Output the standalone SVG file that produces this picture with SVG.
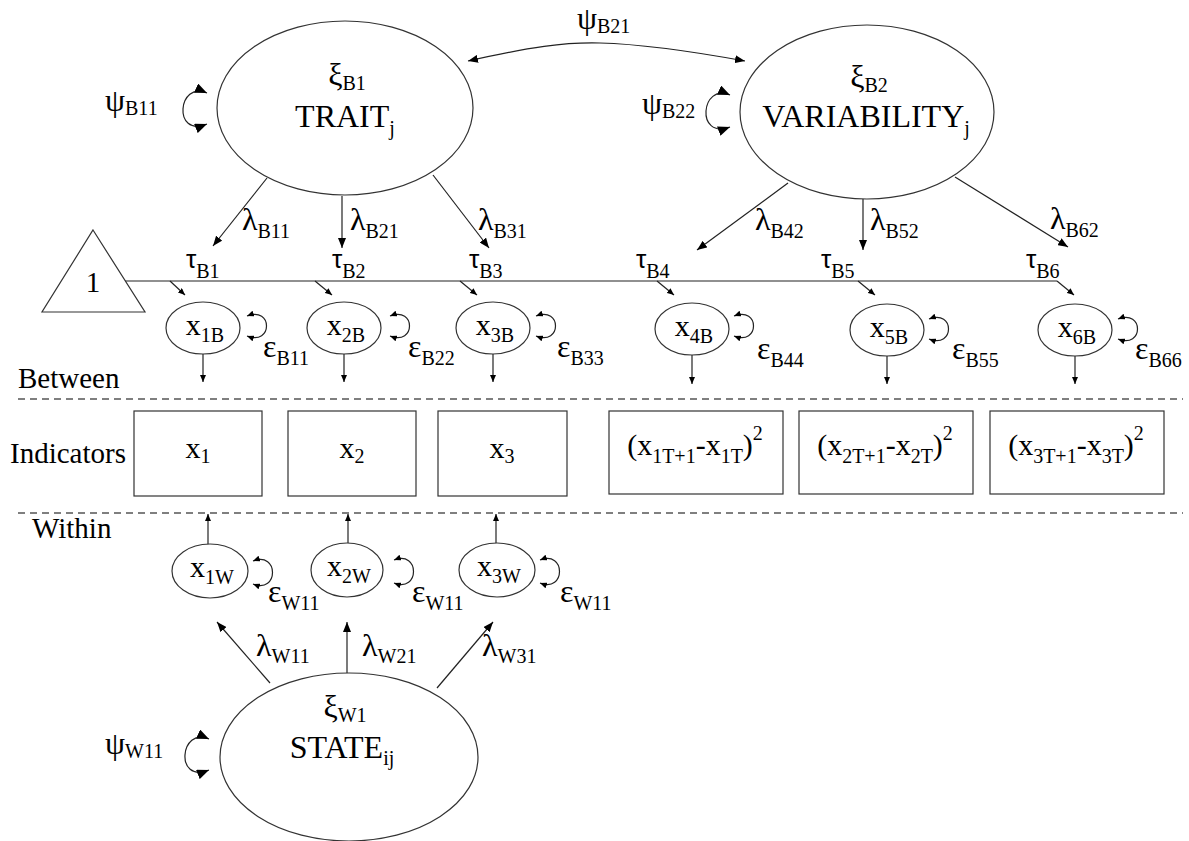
<svg xmlns="http://www.w3.org/2000/svg" width="1189" height="841" viewBox="0 0 1189 841">
<style>
text{font-family:"Liberation Serif","Times New Roman",serif;fill:#000}
.big{font-size:32px}
.g{font-size:32px}
.s{font-size:20px}
.tau{font-family:"Liberation Sans",Arial,sans-serif;font-size:26px}
.lbl{font-size:29px}
.x{font-size:30px}
.node{fill:#fff;stroke:#333;stroke-width:1.2}
.ln{fill:none;stroke:#222;stroke-width:1.2}
.dash{fill:none;stroke:#555;stroke-width:1.3;stroke-dasharray:7 5}
</style>
<defs>
<marker id="a" markerUnits="userSpaceOnUse" markerWidth="10" markerHeight="8" refX="10" refY="4" orient="auto-start-reverse"><path d="M0,0 L10,4 L0,8 z" fill="#000"/></marker>
<marker id="A" markerUnits="userSpaceOnUse" markerWidth="12" markerHeight="10" refX="12" refY="5" orient="auto-start-reverse"><path d="M0,0 L12,5 L0,10 z" fill="#000"/></marker>
<marker id="m" markerUnits="userSpaceOnUse" markerWidth="7" markerHeight="6" refX="7" refY="3" orient="auto-start-reverse"><path d="M0,0 L7,3 L0,6 z" fill="#000"/></marker>
</defs>

<g id="sections">
<line class="dash" x1="18" y1="399" x2="1183" y2="399"/>
<line class="dash" x1="18" y1="513" x2="1183" y2="513"/>
<text class="lbl" x="18" y="388">Between</text>
<text class="lbl" x="10" y="463">Indicators</text>
<text class="lbl" x="32" y="538">Within</text>
</g>

<g id="connectors">
<path class="ln" d="M468,61 C530,47 565,42 600,43 C640,44 690,51 745,61" marker-start="url(#a)" marker-end="url(#a)"/>
<path class="ln" d="M207,93 C178,80 172,138 207,124" marker-start="url(#A)" marker-end="url(#A)"/>
<path class="ln" d="M730,95 C701,82 695,140 730,127" marker-start="url(#A)" marker-end="url(#A)"/>
<path class="ln" d="M209,739 C180,726 174,784 209,770" marker-start="url(#A)" marker-end="url(#A)"/>
<line class="ln" x1="267" y1="178" x2="213" y2="246" marker-end="url(#a)"/>
<line class="ln" x1="342" y1="196" x2="342" y2="248" marker-end="url(#a)"/>
<line class="ln" x1="433" y1="175" x2="489" y2="248" marker-end="url(#a)"/>
<line class="ln" x1="788" y1="183" x2="697" y2="250" marker-end="url(#a)"/>
<line class="ln" x1="863" y1="199" x2="863" y2="250" marker-end="url(#a)"/>
<line class="ln" x1="955" y1="177" x2="1068" y2="247" marker-end="url(#a)"/>
<line class="ln" x1="125" y1="281" x2="1057" y2="281"/>
<line class="ln" x1="170" y1="281" x2="185" y2="295" marker-end="url(#m)"/>
<line class="ln" x1="315" y1="281" x2="332" y2="295" marker-end="url(#m)"/>
<line class="ln" x1="460" y1="281" x2="477" y2="295" marker-end="url(#m)"/>
<line class="ln" x1="657" y1="281" x2="674" y2="295" marker-end="url(#m)"/>
<line class="ln" x1="858" y1="281" x2="875" y2="295" marker-end="url(#m)"/>
<line class="ln" x1="1057" y1="281" x2="1074" y2="295" marker-end="url(#m)"/>
<path class="ln" d="M247,316 C273,306 273,346 247,336" marker-start="url(#m)" marker-end="url(#m)"/>
<path class="ln" d="M390,316 C416,306 416,346 390,336" marker-start="url(#m)" marker-end="url(#m)"/>
<path class="ln" d="M536,316 C562,306 562,346 536,336" marker-start="url(#m)" marker-end="url(#m)"/>
<path class="ln" d="M734,316 C760,306 760,346 734,336" marker-start="url(#m)" marker-end="url(#m)"/>
<path class="ln" d="M929,319 C955,309 955,349 929,339" marker-start="url(#m)" marker-end="url(#m)"/>
<path class="ln" d="M1118,319 C1144,309 1144,349 1118,339" marker-start="url(#m)" marker-end="url(#m)"/>
<line class="ln" x1="203" y1="354" x2="203" y2="382" marker-end="url(#m)"/>
<line class="ln" x1="344" y1="354" x2="344" y2="382" marker-end="url(#m)"/>
<line class="ln" x1="493" y1="354" x2="493" y2="382" marker-end="url(#m)"/>
<line class="ln" x1="692" y1="355" x2="692" y2="384" marker-end="url(#m)"/>
<line class="ln" x1="887" y1="356" x2="887" y2="384" marker-end="url(#m)"/>
<line class="ln" x1="1075" y1="356" x2="1075" y2="384" marker-end="url(#m)"/>
<line class="ln" x1="208" y1="545" x2="208" y2="514" marker-end="url(#m)"/>
<line class="ln" x1="348" y1="543" x2="348" y2="514" marker-end="url(#m)"/>
<line class="ln" x1="496" y1="544" x2="496" y2="514" marker-end="url(#m)"/>
<path class="ln" d="M253,561 C279,551 279,594 253,584" marker-start="url(#m)" marker-end="url(#m)"/>
<path class="ln" d="M394,560 C420,550 420,593 394,583" marker-start="url(#m)" marker-end="url(#m)"/>
<path class="ln" d="M540,560 C566,550 566,593 540,583" marker-start="url(#m)" marker-end="url(#m)"/>
<line class="ln" x1="270" y1="683" x2="217" y2="622" marker-end="url(#a)"/>
<line class="ln" x1="347" y1="673" x2="347" y2="622" marker-end="url(#a)"/>
<line class="ln" x1="437" y1="688" x2="493" y2="622" marker-end="url(#a)"/>
</g>

<g id="params">
<text x="577" y="29"><tspan class="g">ψ</tspan><tspan class="s" dy="4">B21</tspan></text>
<text x="105" y="111"><tspan class="g">ψ</tspan><tspan class="s" dy="4">B11</tspan></text>
<text x="642" y="114"><tspan class="g">ψ</tspan><tspan class="s" dy="4">B22</tspan></text>
<text x="105" y="754"><tspan class="g">ψ</tspan><tspan class="s" dy="4">W11</tspan></text>
<text x="242" y="230"><tspan class="g">λ</tspan><tspan class="s" dy="8">B11</tspan></text>
<text x="350" y="230"><tspan class="g">λ</tspan><tspan class="s" dy="8">B21</tspan></text>
<text x="478" y="230"><tspan class="g">λ</tspan><tspan class="s" dy="8">B31</tspan></text>
<text x="755" y="230"><tspan class="g">λ</tspan><tspan class="s" dy="8">B42</tspan></text>
<text x="870" y="230"><tspan class="g">λ</tspan><tspan class="s" dy="8">B52</tspan></text>
<text x="1050" y="229"><tspan class="g">λ</tspan><tspan class="s" dy="8">B62</tspan></text>
<text x="186" y="268"><tspan class="tau">τ</tspan><tspan class="s" dy="10">B1</tspan></text>
<text x="332" y="268"><tspan class="tau">τ</tspan><tspan class="s" dy="10">B2</tspan></text>
<text x="469" y="268"><tspan class="tau">τ</tspan><tspan class="s" dy="10">B3</tspan></text>
<text x="636" y="268"><tspan class="tau">τ</tspan><tspan class="s" dy="10">B4</tspan></text>
<text x="821" y="268"><tspan class="tau">τ</tspan><tspan class="s" dy="10">B5</tspan></text>
<text x="1026" y="268"><tspan class="tau">τ</tspan><tspan class="s" dy="10">B6</tspan></text>
<text x="263" y="357"><tspan class="g">ε</tspan><tspan class="s" dy="8">B11</tspan></text>
<text x="408" y="357"><tspan class="g">ε</tspan><tspan class="s" dy="8">B22</tspan></text>
<text x="557" y="357"><tspan class="g">ε</tspan><tspan class="s" dy="8">B33</tspan></text>
<text x="757" y="359"><tspan class="g">ε</tspan><tspan class="s" dy="8">B44</tspan></text>
<text x="952" y="359"><tspan class="g">ε</tspan><tspan class="s" dy="8">B55</tspan></text>
<text x="1135" y="359"><tspan class="g">ε</tspan><tspan class="s" dy="8">B66</tspan></text>
<text x="268" y="602"><tspan class="g">ε</tspan><tspan class="s" dy="8">W11</tspan></text>
<text x="412" y="602"><tspan class="g">ε</tspan><tspan class="s" dy="8">W11</tspan></text>
<text x="560" y="602"><tspan class="g">ε</tspan><tspan class="s" dy="8">W11</tspan></text>
<text x="256" y="656"><tspan class="g">λ</tspan><tspan class="s" dy="7">W11</tspan></text>
<text x="362" y="656"><tspan class="g">λ</tspan><tspan class="s" dy="7">W21</tspan></text>
<text x="482" y="656"><tspan class="g">λ</tspan><tspan class="s" dy="7">W31</tspan></text>
</g>

<g id="trait">
<ellipse class="node" cx="345" cy="108" rx="128" ry="87"/>
<text x="347" y="85" text-anchor="middle"><tspan class="g">ξ</tspan><tspan class="s" dy="5">B1</tspan></text>
<text x="345" y="127" text-anchor="middle"><tspan class="big">TRAIT</tspan><tspan class="s" dy="8">j</tspan></text>
</g>
<g id="variability">
<ellipse class="node" cx="867" cy="112" rx="127" ry="87"/>
<text x="869" y="87" text-anchor="middle"><tspan class="g">ξ</tspan><tspan class="s" dy="5">B2</tspan></text>
<text x="866" y="127" text-anchor="middle"><tspan class="big">VARIABILITY</tspan><tspan class="s" dy="8">j</tspan></text>
</g>
<g id="state">
<ellipse class="node" cx="349" cy="757" rx="129" ry="84"/>
<text x="345" y="717" text-anchor="middle"><tspan class="g">ξ</tspan><tspan class="s" dy="5">W1</tspan></text>
<text x="342" y="758" text-anchor="middle"><tspan class="big">STATE</tspan><tspan class="s" dy="7">ij</tspan></text>
</g>
<g id="one">
<polygon class="node" points="93,230 145,312 42,312"/>
<text x="93" y="292" text-anchor="middle" style="font-size:29px">1</text>
</g>

<g id="x1B"><ellipse class="node" cx="203" cy="328" rx="37" ry="26"/><text x="205" y="335" text-anchor="middle"><tspan class="x">x</tspan><tspan class="s" dy="7">1B</tspan></text></g>
<g id="x2B"><ellipse class="node" cx="344" cy="328" rx="37" ry="26"/><text x="346" y="335" text-anchor="middle"><tspan class="x">x</tspan><tspan class="s" dy="7">2B</tspan></text></g>
<g id="x3B"><ellipse class="node" cx="493" cy="328" rx="37" ry="26"/><text x="495" y="335" text-anchor="middle"><tspan class="x">x</tspan><tspan class="s" dy="7">3B</tspan></text></g>
<g id="x4B"><ellipse class="node" cx="692" cy="329" rx="37" ry="26"/><text x="694" y="336" text-anchor="middle"><tspan class="x">x</tspan><tspan class="s" dy="7">4B</tspan></text></g>
<g id="x5B"><ellipse class="node" cx="887" cy="330" rx="37" ry="26"/><text x="889" y="337" text-anchor="middle"><tspan class="x">x</tspan><tspan class="s" dy="7">5B</tspan></text></g>
<g id="x6B"><ellipse class="node" cx="1075" cy="330" rx="37" ry="26"/><text x="1077" y="337" text-anchor="middle"><tspan class="x">x</tspan><tspan class="s" dy="7">6B</tspan></text></g>

<g id="ind1"><rect class="node" x="134" y="411" width="128" height="85"/><text x="198" y="458" text-anchor="middle"><tspan class="x">x</tspan><tspan class="s" dy="5">1</tspan></text></g>
<g id="ind2"><rect class="node" x="288" y="411" width="128" height="85"/><text x="352" y="458" text-anchor="middle"><tspan class="x">x</tspan><tspan class="s" dy="5">2</tspan></text></g>
<g id="ind3"><rect class="node" x="438" y="411" width="129" height="85"/><text x="502" y="458" text-anchor="middle"><tspan class="x">x</tspan><tspan class="s" dy="5">3</tspan></text></g>
<g id="ind4"><rect class="node" x="609" y="411" width="174" height="83"/><text x="695" y="455" text-anchor="middle" class="x">(x<tspan class="s" dy="8">1T+1</tspan><tspan dy="-8">-x</tspan><tspan class="s" dy="8">1T</tspan><tspan dy="-8">)</tspan><tspan class="s" dy="-15">2</tspan></text></g>
<g id="ind5"><rect class="node" x="799" y="411" width="174" height="83"/><text x="885" y="455" text-anchor="middle" class="x">(x<tspan class="s" dy="8">2T+1</tspan><tspan dy="-8">-x</tspan><tspan class="s" dy="8">2T</tspan><tspan dy="-8">)</tspan><tspan class="s" dy="-15">2</tspan></text></g>
<g id="ind6"><rect class="node" x="990" y="411" width="174" height="83"/><text x="1076" y="455" text-anchor="middle" class="x">(x<tspan class="s" dy="8">3T+1</tspan><tspan dy="-8">-x</tspan><tspan class="s" dy="8">3T</tspan><tspan dy="-8">)</tspan><tspan class="s" dy="-15">2</tspan></text></g>

<g id="x1W"><ellipse class="node" cx="210" cy="571" rx="38" ry="27"/><text x="212" y="577" text-anchor="middle"><tspan class="x">x</tspan><tspan class="s" dy="7">1W</tspan></text></g>
<g id="x2W"><ellipse class="node" cx="347" cy="570" rx="36" ry="27"/><text x="349" y="576" text-anchor="middle"><tspan class="x">x</tspan><tspan class="s" dy="7">2W</tspan></text></g>
<g id="x3W"><ellipse class="node" cx="497" cy="570" rx="38" ry="27"/><text x="499" y="576" text-anchor="middle"><tspan class="x">x</tspan><tspan class="s" dy="7">3W</tspan></text></g>
</svg>
